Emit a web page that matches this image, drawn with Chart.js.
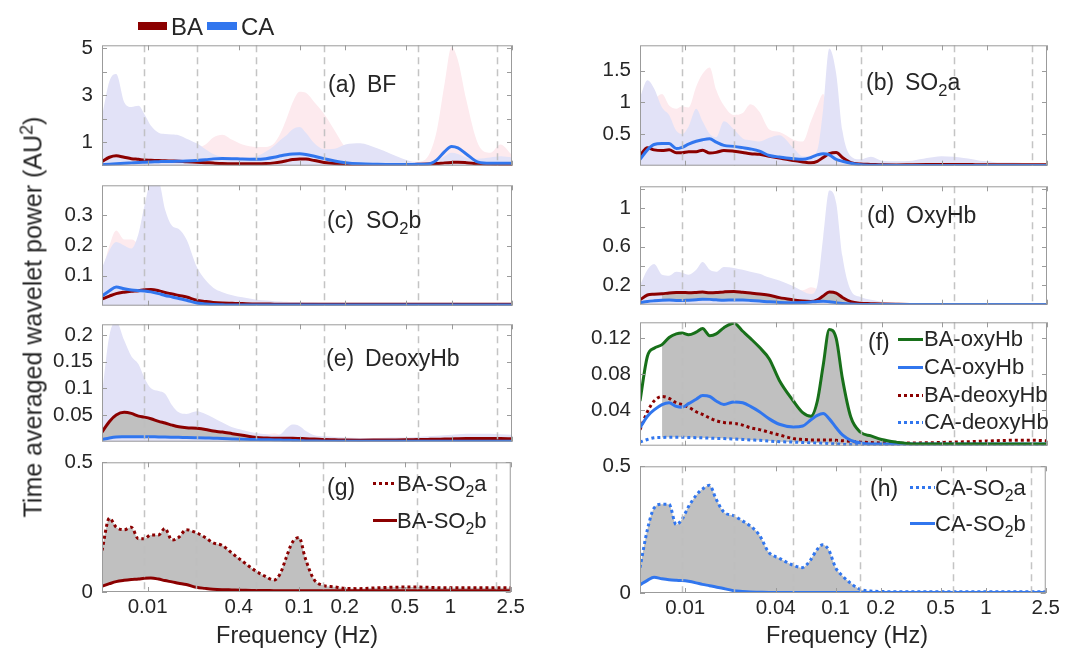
<!DOCTYPE html>
<html>
<head>
<meta charset="utf-8">
<script src="https://cdn.jsdelivr.net/npm/chart.js@4.4.1/dist/chart.umd.min.js"></script>
<style>
  html, body { margin: 0; background: #fff; }
  #wrap { position: relative; width: 1086px; height: 652px; overflow: hidden; font-family: "Liberation Sans", Arial, sans-serif; color: #262626; }
  #wrap canvas { position: absolute; }
  .t { position: absolute; line-height: 1; white-space: nowrap; transform: translateY(-50%); }
  .t sub { font-size: 0.72em; vertical-align: -0.4em; line-height: 0; }
  .t sup { font-size: 0.72em; vertical-align: 0.5em; line-height: 0; }
  .sw { position: absolute; }
</style>
</head>
<body>
<div id="wrap"></div>
<script>
// frequency grid (Hz), shared by every curve
const freq = [0.005, 0.0056, 0.0062, 0.007, 0.0078, 0.0087, 0.0095, 0.0105, 0.0118, 0.013,
  0.0145, 0.016, 0.018, 0.021, 0.024, 0.027, 0.031, 0.036, 0.042, 0.052,
  0.06, 0.068, 0.075, 0.082, 0.09, 0.1, 0.11, 0.125, 0.145, 0.17,
  0.2, 0.25, 0.32, 0.4, 0.5, 0.6, 0.7, 0.8, 0.9, 1.0,
  1.1, 1.25, 1.5, 1.8, 2.1, 2.5];

// (a) BF : mean and upper envelope
const bfBA = [0.18, 0.36, 0.42, 0.36, 0.3, 0.27, 0.24, 0.23, 0.22, 0.21, 0.2, 0.19, 0.17, 0.15, 0.13, 0.11, 0.09, 0.08, 0.08, 0.08, 0.09, 0.12, 0.16, 0.21, 0.26, 0.29, 0.28, 0.22, 0.14, 0.09, 0.06, 0.05, 0.05, 0.05, 0.05, 0.06, 0.07, 0.09, 0.12, 0.14, 0.15, 0.13, 0.08, 0.06, 0.05, 0.04];
const bfCA = [0.04, 0.06, 0.08, 0.1, 0.12, 0.14, 0.15, 0.16, 0.17, 0.18, 0.18, 0.19, 0.2, 0.22, 0.25, 0.29, 0.31, 0.3, 0.28, 0.27, 0.3, 0.36, 0.42, 0.47, 0.5, 0.51, 0.48, 0.4, 0.3, 0.2, 0.13, 0.08, 0.06, 0.05, 0.05, 0.06, 0.07, 0.25, 0.6, 0.82, 0.76, 0.5, 0.15, 0.1, 0.1, 0.1];
const bfBAup = [1.5, 2.0, 2.2, 2.0, 1.8, 1.6, 1.4, 1.2, 1.0, 0.9, 0.8, 0.75, 0.7, 0.75, 0.9, 1.2, 1.32, 1.1, 0.9, 0.8, 0.8, 0.95, 1.4, 2.0, 2.7, 3.15, 3.1, 2.7, 2.2, 1.5, 0.8, 0.5, 0.4, 0.3, 0.2, 0.17, 0.4, 1.5, 3.5, 5.05, 4.5, 2.8, 0.9, 0.55, 0.9, 0.45];
const bfCAup = [2.1, 3.6, 3.9, 2.7, 2.5, 2.55, 2.2, 1.7, 1.4, 1.35, 1.33, 1.3, 1.15, 0.95, 0.7, 0.5, 0.38, 0.33, 0.32, 0.4, 0.6, 0.85, 1.1, 1.3, 1.55, 1.65, 1.4, 0.95, 0.7, 0.72, 0.9, 0.95, 0.75, 0.5, 0.25, 0.12, 0.12, 0.2, 0.4, 0.55, 0.5, 0.35, 0.3, 0.35, 0.4, 0.35];

// (b) SO2a
const so2aBA = [0.16, 0.285, 0.25, 0.24, 0.25, 0.205, 0.205, 0.22, 0.22, 0.245, 0.2, 0.21, 0.24, 0.228, 0.21, 0.19, 0.18, 0.15, 0.12, 0.08, 0.06, 0.046, 0.07, 0.13, 0.19, 0.21, 0.13, 0.05, 0.025, 0.02, 0.014, 0.013, 0.016, 0.018, 0.019, 0.019, 0.018, 0.017, 0.016, 0.016, 0.016, 0.016, 0.016, 0.016, 0.016, 0.016];
const so2aCA = [0.1, 0.25, 0.335, 0.35, 0.35, 0.27, 0.29, 0.34, 0.385, 0.41, 0.425, 0.372, 0.32, 0.305, 0.285, 0.265, 0.23, 0.16, 0.138, 0.11, 0.1, 0.13, 0.17, 0.19, 0.17, 0.1, 0.07, 0.04, 0.015, 0.008, 0.006, 0.005, 0.005, 0.005, 0.005, 0.005, 0.005, 0.005, 0.005, 0.005, 0.005, 0.005, 0.005, 0.005, 0.005, 0.005];
const so2aBAup = [0.9, 1.0, 1.05, 1.13, 0.95, 0.9, 0.94, 0.92, 1.25, 1.45, 1.55, 1.2, 0.95, 0.8, 0.83, 0.97, 0.85, 0.57, 0.53, 0.41, 0.38, 0.7, 0.95, 1.13, 0.5, 0.2, 0.1, 0.05, 0.03, 0.03, 0.03, 0.03, 0.03, 0.03, 0.03, 0.03, 0.03, 0.03, 0.03, 0.03, 0.03, 0.03, 0.03, 0.03, 0.03, 0.03];
const so2aCAup = [1.08, 1.35, 1.22, 0.92, 0.8, 0.55, 0.5, 0.62, 0.9, 0.7, 0.5, 0.45, 0.7, 0.57, 0.43, 0.4, 0.38, 0.44, 0.48, 0.28, 0.15, 0.15, 0.25, 0.9, 1.85, 1.45, 0.55, 0.15, 0.1, 0.14, 0.08, 0.07, 0.08, 0.12, 0.15, 0.14, 0.12, 0.1, 0.08, 0.07, 0.06, 0.05, 0.05, 0.04, 0.04, 0.04];

// (c) SO2b
const so2bBA = [0.022, 0.032, 0.04, 0.045, 0.048, 0.05, 0.053, 0.054, 0.05, 0.044, 0.039, 0.034, 0.029, 0.018, 0.014, 0.011, 0.009, 0.008, 0.007, 0.006, 0.006, 0.005, 0.005, 0.005, 0.005, 0.005, 0.005, 0.005, 0.005, 0.005, 0.005, 0.005, 0.005, 0.005, 0.005, 0.005, 0.005, 0.005, 0.005, 0.005, 0.005, 0.005, 0.005, 0.005, 0.005, 0.005];
const so2bCA = [0.032, 0.05, 0.062, 0.056, 0.052, 0.05, 0.049, 0.046, 0.04, 0.034, 0.029, 0.024, 0.018, 0.009, 0.006, 0.004, 0.003, 0.002, 0.002, 0.002, 0.002, 0.002, 0.002, 0.002, 0.002, 0.002, 0.002, 0.002, 0.002, 0.002, 0.002, 0.002, 0.002, 0.002, 0.002, 0.002, 0.002, 0.002, 0.002, 0.002, 0.002, 0.002, 0.002, 0.002, 0.002, 0.002];
const so2bBAup = [0.11, 0.2, 0.25, 0.22, 0.22, 0.2, 0.15, 0.12, 0.1, 0.08, 0.06, 0.05, 0.04, 0.03, 0.02, 0.02, 0.015, 0.012, 0.01, 0.01, 0.009, 0.009, 0.009, 0.009, 0.009, 0.009, 0.009, 0.009, 0.009, 0.008, 0.008, 0.008, 0.008, 0.008, 0.008, 0.008, 0.008, 0.008, 0.008, 0.008, 0.008, 0.008, 0.008, 0.008, 0.008, 0.008];
const so2bCAup = [0.125, 0.185, 0.212, 0.2, 0.19, 0.24, 0.33, 0.41, 0.41, 0.32, 0.265, 0.255, 0.22, 0.13, 0.085, 0.06, 0.045, 0.035, 0.028, 0.02, 0.017, 0.015, 0.014, 0.013, 0.012, 0.012, 0.011, 0.011, 0.01, 0.01, 0.01, 0.01, 0.01, 0.01, 0.01, 0.01, 0.01, 0.01, 0.01, 0.01, 0.01, 0.009, 0.009, 0.009, 0.008, 0.008];

// (d) OxyHb
const oxyBA = [0.05, 0.1, 0.109, 0.113, 0.121, 0.125, 0.126, 0.124, 0.127, 0.131, 0.123, 0.125, 0.132, 0.137, 0.128, 0.12, 0.11, 0.097, 0.073, 0.05, 0.037, 0.033, 0.05, 0.09, 0.13, 0.12, 0.075, 0.032, 0.015, 0.011, 0.007, 0.004, 0.002, 0.002, 0.002, 0.002, 0.002, 0.002, 0.002, 0.002, 0.002, 0.002, 0.002, 0.002, 0.002, 0.002];
const oxyCA = [0.02, 0.033, 0.04, 0.046, 0.048, 0.044, 0.043, 0.047, 0.052, 0.056, 0.055, 0.05, 0.046, 0.049, 0.048, 0.044, 0.038, 0.03, 0.024, 0.021, 0.022, 0.029, 0.034, 0.036, 0.03, 0.02, 0.012, 0.006, 0.003, 0.002, 0.002, 0.002, 0.002, 0.002, 0.002, 0.002, 0.002, 0.002, 0.002, 0.002, 0.002, 0.002, 0.002, 0.002, 0.002, 0.002];
const oxyBAup = [0.15, 0.15, 0.15, 0.15, 0.15, 0.15, 0.15, 0.15, 0.15, 0.15, 0.15, 0.15, 0.15, 0.15, 0.15, 0.15, 0.15, 0.15, 0.15, 0.15, 0.15, 0.18, 0.16, 0.12, 0.1, 0.08, 0.05, 0.03, 0.02, 0.01, 0.01, 0.01, 0.01, 0.01, 0.01, 0.01, 0.01, 0.01, 0.01, 0.01, 0.01, 0.01, 0.01, 0.01, 0.01, 0.01];
const oxyCAup = [0.2, 0.36, 0.42, 0.31, 0.3, 0.34, 0.33, 0.31, 0.36, 0.44, 0.36, 0.34, 0.39, 0.38, 0.36, 0.34, 0.32, 0.28, 0.25, 0.19, 0.14, 0.11, 0.2, 0.7, 1.18, 1.05, 0.5, 0.15, 0.08, 0.05, 0.03, 0.02, 0.01, 0.01, 0.01, 0.01, 0.01, 0.01, 0.01, 0.01, 0.01, 0.01, 0.01, 0.01, 0.01, 0.01];

// (e) DeoxyHb
const deoxyBA = [0.018, 0.038, 0.05, 0.055, 0.053, 0.048, 0.046, 0.043, 0.038, 0.035, 0.031, 0.028, 0.026, 0.025, 0.023, 0.02, 0.018, 0.015, 0.012, 0.008, 0.007, 0.0065, 0.0065, 0.0065, 0.0065, 0.006, 0.0055, 0.005, 0.004, 0.0035, 0.003, 0.0028, 0.003, 0.0033, 0.0036, 0.004, 0.0043, 0.0046, 0.005, 0.0052, 0.0055, 0.0058, 0.006, 0.006, 0.006, 0.0055];
const deoxyCA = [0.004, 0.007, 0.0088, 0.0092, 0.0094, 0.0095, 0.0094, 0.0092, 0.009, 0.0088, 0.0085, 0.0082, 0.008, 0.0075, 0.007, 0.0065, 0.006, 0.0052, 0.0045, 0.004, 0.0036, 0.0033, 0.003, 0.0028, 0.0024, 0.002, 0.0015, 0.0012, 0.001, 0.001, 0.001, 0.001, 0.001, 0.001, 0.001, 0.001, 0.001, 0.001, 0.001, 0.001, 0.001, 0.001, 0.001, 0.001, 0.001, 0.001];
const deoxyBAup = [0.06, 0.1, 0.12, 0.11, 0.09, 0.08, 0.07, 0.06, 0.055, 0.05, 0.045, 0.04, 0.035, 0.035, 0.03, 0.028, 0.025, 0.02, 0.017, 0.014, 0.014, 0.016, 0.013, 0.012, 0.011, 0.01, 0.009, 0.008, 0.008, 0.007, 0.007, 0.007, 0.007, 0.007, 0.007, 0.007, 0.008, 0.008, 0.009, 0.009, 0.01, 0.01, 0.01, 0.01, 0.01, 0.01];
const deoxyCAup = [0.09, 0.2, 0.225, 0.19, 0.16, 0.145, 0.12, 0.1, 0.095, 0.09, 0.068, 0.055, 0.052, 0.057, 0.052, 0.045, 0.036, 0.027, 0.022, 0.016, 0.014, 0.012, 0.014, 0.025, 0.032, 0.029, 0.02, 0.012, 0.01, 0.009, 0.008, 0.007, 0.007, 0.008, 0.008, 0.009, 0.01, 0.011, 0.012, 0.013, 0.014, 0.015, 0.015, 0.015, 0.014, 0.013];

// axis ticks
const bandEdges = [0.0095, 0.021, 0.052, 0.145, 0.6, 2.0];
const xTicks = [0.01, 0.04, 0.1, 0.2, 0.5, 1, 2.5];
const xTextLeft = ['0.01', '0.4', '0.1', '0.2', '0.5', '1', '2.5'];
const xTextRight = ['0.01', '0.04', '0.1', '0.2', '0.5', '1', '2.5'];

const BA_RED = '#8b0000', CA_BLUE = '#3176ee', OXY_GREEN = '#18701a';
const PINK = '#fdeaee', LAV = '#e2e2f7', GREY = '#c0c0c0';
const FONT = "'Liberation Sans', Arial, sans-serif";
const TICK_SIZE = 20.5;
const PADL = 70, PADR = 16, PADT = 14, PADB = 14, XH = 40;

function xy(vals, from) {
  return vals.map((v, i) => ({ x: freq[i], y: (from !== undefined && i < from) ? null : v }));
}
function lineDs(vals, color, dotted) {
  return { data: xy(vals), borderColor: color, borderWidth: 3, borderDash: dotted ? [3, 3] : [],
    pointRadius: 0, fill: false, cubicInterpolationMode: 'monotone' };
}
function areaDs(vals, color) {
  return { data: xy(vals), borderWidth: 0, borderColor: 'rgba(0,0,0,0)', backgroundColor: color,
    pointRadius: 0, fill: 'origin', cubicInterpolationMode: 'monotone' };
}
function bandDs(vals, target, from) {
  return { data: xy(vals, from), borderWidth: 0, borderColor: 'rgba(0,0,0,0)', backgroundColor: GREY,
    pointRadius: 0, fill: { target: target }, spanGaps: false, cubicInterpolationMode: 'monotone' };
}

const panels = [
  { box: [102, 38, 512, 173], yMax: 5.12, yTicks: [1, 2, 3, 4, 5], yText: ['1', '', '3', '', '5'],
    sets: [lineDs(bfCA, CA_BLUE), lineDs(bfBA, BA_RED), areaDs(bfCAup, LAV), areaDs(bfBAup, PINK)] },
  { box: [640, 38, 1047, 173], yMax: 1.9, yTicks: [0.5, 1, 1.5], yText: ['0.5', '1', '1.5'],
    sets: [lineDs(so2aCA, CA_BLUE), lineDs(so2aBA, BA_RED), areaDs(so2aCAup, LAV), areaDs(so2aBAup, PINK)] },
  { box: [102, 178, 512, 313], yMax: 0.4, yTicks: [0.1, 0.2, 0.3], yText: ['0.1', '0.2', '0.3'],
    sets: [lineDs(so2bCA, CA_BLUE), lineDs(so2bBA, BA_RED), areaDs(so2bCAup, LAV), areaDs(so2bBAup, PINK)] },
  { box: [640, 179, 1047, 312], yMax: 1.223, yTicks: [0.2, 0.4, 0.6, 0.8, 1.0, 1.2], yText: ['0.2', '', '0.6', '', '1', ''],
    sets: [lineDs(oxyCA, CA_BLUE), lineDs(oxyBA, BA_RED), bandDs(oxyBA, 0, 3), areaDs(oxyCAup, LAV), areaDs(oxyBAup, PINK)] },
  { box: [102, 317, 512, 449], yMax: 0.22, yTicks: [0.05, 0.1, 0.15, 0.2], yText: ['0.05', '0.1', '0.15', '0.2'],
    sets: [lineDs(deoxyCA, CA_BLUE), lineDs(deoxyBA, BA_RED), bandDs(deoxyBA, 0, 0), areaDs(deoxyCAup, LAV), areaDs(deoxyBAup, PINK)] },
  { box: [640, 315, 1047, 453], yMax: 0.138, yTicks: [0.04, 0.08, 0.12], yText: ['0.04', '0.08', '0.12'],
    sets: [lineDs(oxyBA, OXY_GREEN), lineDs(oxyCA, CA_BLUE), lineDs(deoxyBA, BA_RED, true), lineDs(deoxyCA, CA_BLUE, true), bandDs(oxyBA, 3, 3)] },
  { box: [102, 455, 512, 592], yMax: 0.5, yTicks: [0, 0.5], yText: ['0', '0.5'], xText: xTextLeft,
    sets: [lineDs(so2aBA, BA_RED, true), lineDs(so2bBA, BA_RED), bandDs(so2aBA, 1, 0)] },
  { box: [640, 459, 1047, 593], yMax: 0.5, yTicks: [0, 0.5], yText: ['0', '0.5'], xText: xTextRight,
    sets: [lineDs(so2aCA, CA_BLUE, true), lineDs(so2bCA, CA_BLUE), bandDs(so2aCA, 1, 0)] }
];

// dashed band lines, box and inward tick marks, drawn over the data like the original
function makeFrame(p) {
  return {
    id: 'frame',
    afterDatasetsDraw(chart) {
      const { ctx, chartArea: a, scales: { x, y } } = chart;
      ctx.save();
      ctx.strokeStyle = 'rgba(190,190,190,0.9)';
      ctx.lineWidth = 1.5;
      ctx.setLineDash([7, 5]);
      bandEdges.forEach(f => {
        const px = Math.round(x.getPixelForValue(f)) + 0.5;
        ctx.beginPath(); ctx.moveTo(px, a.top); ctx.lineTo(px, a.bottom); ctx.stroke();
      });
      ctx.setLineDash([]);
      ctx.strokeStyle = '#9b9b9b';
      ctx.lineWidth = 1;
      xTicks.forEach(f => {
        const px = Math.round(x.getPixelForValue(f)) + 0.5;
        ctx.beginPath();
        ctx.moveTo(px, a.top); ctx.lineTo(px, a.top + 5);
        ctx.moveTo(px, a.bottom); ctx.lineTo(px, a.bottom - 5);
        ctx.stroke();
      });
      p.yTicks.forEach(v => {
        const py = Math.round(y.getPixelForValue(v)) + 0.5;
        ctx.beginPath();
        ctx.moveTo(a.left, py); ctx.lineTo(a.left + 5, py);
        ctx.moveTo(a.right, py); ctx.lineTo(a.right - 5, py);
        ctx.stroke();
      });
      ctx.strokeRect(a.left + 0.5, a.top + 0.5, a.width - 1, a.height - 1);
      ctx.restore();
    }
  };
}

const wrap = document.getElementById('wrap');

panels.forEach(p => {
  const W = p.box[2] - p.box[0], H = p.box[3] - p.box[1];
  const cv = document.createElement('canvas');
  cv.width = PADL + W + PADR;
  cv.height = PADT + H + (p.xText ? XH : PADB);
  cv.style.left = (p.box[0] - PADL) + 'px';
  cv.style.top = (p.box[1] - PADT) + 'px';
  wrap.appendChild(cv);

  new Chart(cv, {
    type: 'line',
    data: { datasets: p.sets },
    options: {
      responsive: false,
      animation: false,
      events: [],
      layout: { padding: { left: 0, right: PADR, top: PADT, bottom: p.xText ? 0 : PADB } },
      plugins: { legend: { display: false }, tooltip: { enabled: false } },
      scales: {
        x: {
          type: 'logarithmic', min: 0.005, max: 2.5,
          grid: { display: false, drawTicks: false }, border: { display: false },
          afterBuildTicks: s => { s.ticks = xTicks.map(v => ({ value: v })); },
          afterFit: s => { s.height = p.xText ? XH : 0; },
          ticks: {
            display: !!p.xText, autoSkip: false, maxRotation: 0, padding: 3,
            color: '#262626', font: { family: FONT, size: TICK_SIZE },
            callback: (v, i) => (p.xText ? p.xText[i] : '')
          }
        },
        y: {
          min: 0, max: p.yMax,
          grid: { display: false, drawTicks: false }, border: { display: false },
          afterBuildTicks: s => { s.ticks = p.yTicks.map(v => ({ value: v })); },
          afterFit: s => { s.width = PADL; },
          ticks: {
            autoSkip: false, padding: 9, color: '#262626', font: { family: FONT, size: TICK_SIZE },
            callback: (v, i) => p.yText[i]
          }
        }
      }
    },
    plugins: [makeFrame(p)]
  });
});

// text overlays
function text(html, x, y, size, extra) {
  const d = document.createElement('div');
  d.className = 't';
  d.innerHTML = html;
  d.style.left = x + 'px';
  d.style.top = y + 'px';
  d.style.fontSize = size + 'px';
  if (extra) Object.assign(d.style, extra);
  wrap.appendChild(d);
  return d;
}
function swatch(x1, x2, y, color, dotted, h) {
  const d = document.createElement('div');
  d.className = 'sw';
  h = h || 3;
  d.style.left = x1 + 'px';
  d.style.top = (y - h / 2) + 'px';
  d.style.width = (x2 - x1) + 'px';
  d.style.height = h + 'px';
  d.style.background = dotted
    ? 'repeating-linear-gradient(90deg, ' + color + ' 0 3px, transparent 3px 6px)'
    : color;
  wrap.appendChild(d);
}

// top legend
swatch(138, 167, 26, BA_RED, false, 8);
text('BA', 171, 27, 24);
swatch(207, 237, 26, CA_BLUE, false, 8);
text('CA', 241, 27, 24);

// axis titles
text('Time averaged wavelet power (AU<sup>2</sup>)', 33, 317, 25,
  { transform: 'translate(-50%, -50%) rotate(-90deg)' });
text('Frequency (Hz)', 297, 636, 23.5, { transform: 'translate(-50%, -50%)' });
text('Frequency (Hz)', 847, 636, 23.5, { transform: 'translate(-50%, -50%)' });

// panel labels
const panelLabels = [
  ['(a)', 'BF', 328, 84], ['(b)', 'SO<sub>2</sub>a', 866, 82],
  ['(c)', 'SO<sub>2</sub>b', 327, 220], ['(d)', 'OxyHb', 867, 215],
  ['(e)', 'DeoxyHb', 326, 358], ['(f)', '', 868, 342],
  ['(g)', '', 327, 487], ['(h)', '', 870, 488]
];
panelLabels.forEach(l => {
  text(l[0], l[2], l[3], 23);
  if (l[1]) text(l[1], l[2] + 39, l[3], 23);
});

// legend of (f)
const fLegend = [['BA-oxyHb', OXY_GREEN, false, 339], ['CA-oxyHb', CA_BLUE, false, 367],
  ['BA-deoxyHb', BA_RED, true, 395], ['CA-deoxyHb', CA_BLUE, true, 422]];
fLegend.forEach(e => { swatch(898, 923, e[3], e[1], e[2]); text(e[0], 924, e[3], 22); });

// legends of (g) and (h)
swatch(373, 397, 483, BA_RED, true); text('BA-SO<sub>2</sub>a', 397, 484, 22);
swatch(373, 397, 520, BA_RED, false); text('BA-SO<sub>2</sub>b', 397, 521, 22);
swatch(910, 935, 487, CA_BLUE, true); text('CA-SO<sub>2</sub>a', 935, 488, 22);
swatch(910, 935, 523, CA_BLUE, false); text('CA-SO<sub>2</sub>b', 935, 524, 22);
</script>
</body>
</html>
